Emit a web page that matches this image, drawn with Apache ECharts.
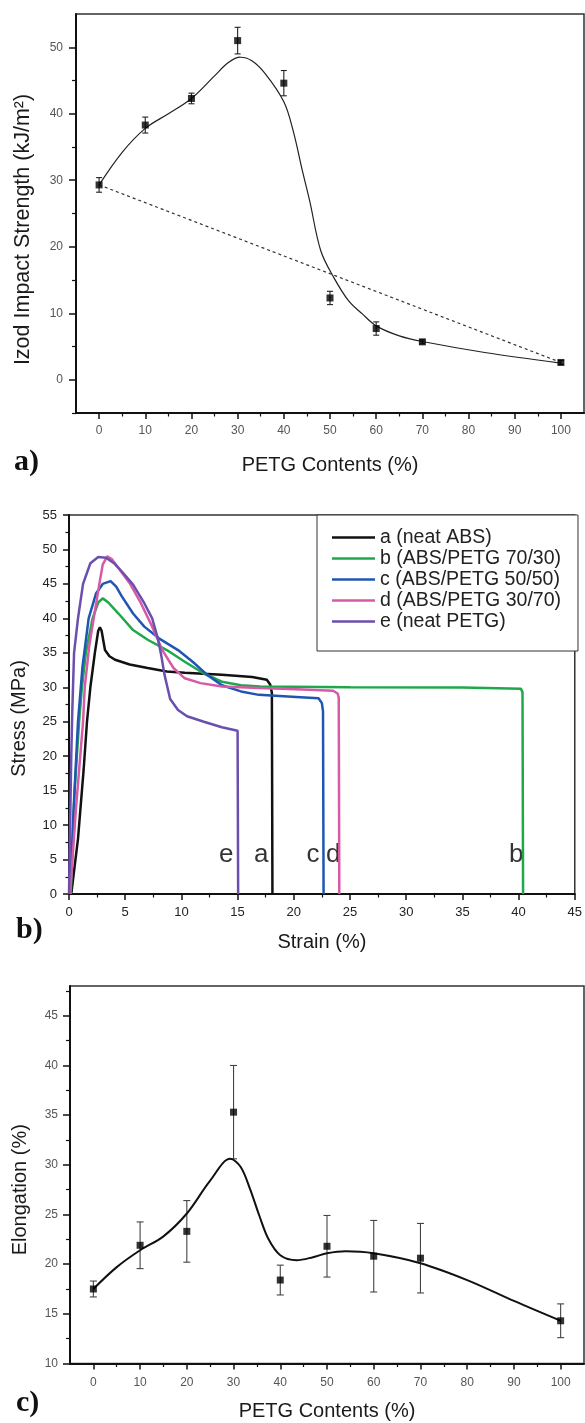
<!DOCTYPE html>
<html><head><meta charset="utf-8">
<script src="https://cdn.jsdelivr.net/npm/echarts@6/dist/echarts.min.js"></script>
<style>html,body{margin:0;padding:0;background:#fff}#c{width:585px;height:1423px}</style>
</head><body><div id="c"></div>
<script>
// ---------- data ----------
const petg = [0, 10, 20, 30, 40, 50, 60, 70, 100];
// (a) Izod impact strength
const izodMean = [29.3, 38.3, 42.3, 51.0, 44.6, 12.3, 7.7, 5.7, 2.6];
const izodErr  = [1.1, 1.2, 0.8, 2.0, 1.9, 1.0, 1.0, 0.3, 0.3];
const izodFitX = [0, 5, 10, 15, 20, 25, 28, 30.6, 33, 36, 40, 42, 44, 45.6, 48, 50.8, 54, 57, 60, 65, 70, 83.5, 100];
const izodFitY = [29.3, 34.2, 37.8, 40.0, 42.3, 45.7, 47.7, 48.5, 48.0, 46.0, 41.8, 37.5, 31.5, 26.9, 19.4, 15.4, 11.9, 9.9, 8.1, 6.6, 5.75, 4.1, 2.5];
const izodRuleX = [0, 100];
const izodRuleY = [29.3, 2.6];
// (c) elongation
const elongMean = [17.5, 21.9, 23.3, 35.3, 18.4, 21.8, 20.8, 20.6, 14.3];
const elongErr  = [0.8, 2.35, 3.1, 4.7, 1.5, 3.1, 3.6, 3.5, 1.7];
const elongFitX = [0, 5, 10, 15, 20, 25, 29.3, 31.5, 33.5, 35.5, 37.5, 40, 43.5, 47, 50, 54, 60, 70, 80, 90, 100];
const elongFitY = [17.5, 19.7, 21.4, 22.8, 25.1, 28.4, 30.6, 29.8, 27.6, 24.9, 22.5, 20.9, 20.4, 20.7, 21.1, 21.3, 21.1, 20.1, 18.4, 16.3, 14.3];
// (b) stress-strain curves [strain %, stress MPa]
const curveNames = ['a (neat ABS)', 'b (ABS/PETG 70/30)', 'c (ABS/PETG 50/50)', 'd (ABS/PETG 30/70)', 'e (neat PETG)'];
const curveA = [[0.2,0],[0.8,8],[1.3,18],[1.6,25],[1.9,30],[2.3,35],[2.6,38.2],[2.75,38.7],[2.9,38.2],[3.2,35.4],[3.6,34.5],[4.1,34.0],[5.4,33.3],[7.0,32.8],[8.7,32.3],[10.3,32.1],[13.6,31.8],[16.3,31.5],[17.6,31.1],[17.9,30.4],[18.05,29.2],[18.1,0]];
const curveB = [[0.15,0],[0.5,15],[0.9,25],[1.15,30],[1.5,35],[2.1,40],[2.6,42.3],[3.0,42.9],[3.5,42.3],[4.4,40.7],[5.7,38.3],[7.0,36.9],[8.7,35.4],[10.3,33.7],[12.0,32.0],[13.6,30.8],[15.3,30.3],[17.0,30.1],[25,30.0],[35,29.95],[40.2,29.8],[40.35,29.3],[40.4,0]];
const curveC = [[0.1,0],[0.4,12],[0.8,25],[1.2,33],[1.75,40],[2.4,43.6],[3.0,45.0],[3.7,45.4],[4.2,44.6],[4.7,43.2],[5.7,40.7],[6.7,38.8],[8.0,37.1],[9.7,35.4],[11.0,33.7],[12.3,31.8],[13.6,30.3],[15.3,29.4],[16.9,28.9],[20.2,28.6],[22.2,28.4],[22.5,27.7],[22.6,26.5],[22.65,0]];
const curveD = [[0.1,0],[0.6,12],[1.25,25],[1.4,30],[1.8,36],[2.2,40],[2.7,45],[3.0,47.8],[3.4,49.0],[3.8,48.6],[4.4,47.3],[5.4,45.1],[6.4,42.2],[7.4,38.8],[8.3,35.4],[9.3,32.8],[10.3,31.3],[11.7,30.6],[13.6,30.1],[16.9,29.9],[20.2,29.7],[23.5,29.5],[23.9,29.1],[24.0,28.5],[24.05,0]];
const curveE = [[0,0],[0.1,10],[0.2,20],[0.3,27],[0.45,35],[0.8,40],[1.25,45],[1.9,48],[2.6,48.9],[3.3,48.8],[4.0,48.0],[4.7,46.8],[5.7,44.9],[6.7,42.2],[7.4,40.0],[7.9,37.1],[8.2,34.7],[8.5,31.8],[9.0,28.3],[9.7,26.7],[10.5,25.8],[12.0,25.0],[13.6,24.2],[15.0,23.7],[15.05,0]];
const curveColors = ['#111111', '#1fa84a', '#1f56b3', '#d65aa5', '#6b4fae'];
const curveTags = [[14.0, 5.7, 'e'], [17.1, 5.7, 'a'], [21.7, 5.7, 'c'], [23.5, 5.7, 'd'], [39.8, 5.7, 'b']];
// tick values
const contentTicks = [0, 10, 20, 30, 40, 50, 60, 70, 80, 90, 100];
const contentMinor = [5, 15, 25, 35, 45, 55, 65, 75, 85, 95];
const izodTicks = [0, 10, 20, 30, 40, 50];
const izodMinor = [-5, 5, 15, 25, 35, 45];
const elongTicks = [10, 15, 20, 25, 30, 35, 40, 45];
const elongMinor = [12.5, 17.5, 22.5, 27.5, 32.5, 37.5, 42.5, 47.5];

// ---------- chart ----------
const FF = '"Liberation Sans", Arial, sans-serif';
const zip = (xs, ys) => xs.map((x, i) => [x, ys[i]]);
const titleStyle = { fontSize: 20, color: '#1a1a1a', fontFamily: FF };

function majorAxis(o) {
  return Object.assign({
    type: 'value', splitLine: { show: false },
    axisLine: { show: true, onZero: false, lineStyle: { color: '#111', width: 2 } },
    axisTick: { show: true, length: 6, lineStyle: { color: '#111', width: 1.5 } },
    axisLabel: { color: '#555', fontSize: 12, fontFamily: FF, margin: 12 },
    nameLocation: 'middle', nameTextStyle: titleStyle
  }, o);
}
function minorAxis(o) {
  return Object.assign({
    type: 'value', splitLine: { show: false },
    axisLine: { show: false, onZero: false },
    axisTick: { show: true, length: 3.5, lineStyle: { color: '#111', width: 1.2 } },
    axisLabel: { show: false }
  }, o);
}
function errSeries(xi, yi, mean, err, color, cap) {
  return {
    type: 'custom', xAxisIndex: xi, yAxisIndex: yi, silent: true, z: 3,
    data: petg.map((x, i) => [x, mean[i] - err[i], mean[i] + err[i]]),
    encode: { x: 0, y: [1, 2] },
    renderItem(params, api) {
      const x = api.value(0);
      const lo = api.coord([x, api.value(1)]);
      const hi = api.coord([x, api.value(2)]);
      const st = { stroke: color, lineWidth: 1.1 };
      return { type: 'group', children: [
        { type: 'line', shape: { x1: lo[0], y1: lo[1], x2: hi[0], y2: hi[1] }, style: st },
        { type: 'line', shape: { x1: lo[0] - cap, y1: lo[1], x2: lo[0] + cap, y2: lo[1] }, style: st },
        { type: 'line', shape: { x1: hi[0] - cap, y1: hi[1], x2: hi[0] + cap, y2: hi[1] }, style: st }
      ]};
    }
  };
}

const chart = echarts.init(document.getElementById('c'), null, { renderer: 'canvas' });
const curves = [curveA, curveB, curveC, curveD, curveE];

const option = {
  backgroundColor: '#fff',
  animation: false,
  grid: [
    { left: 76, right: 1, top: 14, height: 399, show: true, borderColor: '#333', borderWidth: 1.5 },
    { left: 69, right: 7, top: 515, height: 379, show: true, borderColor: '#333', borderWidth: 1.5 },
    { left: 70, right: 1, top: 986, height: 377.5, show: true, borderColor: '#333', borderWidth: 1.5 }
  ],
  xAxis: [
    majorAxis({ gridIndex: 0, position: 'bottom', min: -5, max: 105, axisTick: { show: true, customValues: contentTicks, length: 6, lineStyle: { color: '#111', width: 1.5 } },
      axisLabel: { customValues: contentTicks, color: '#555', fontSize: 12, fontFamily: FF, margin: 12 },
      name: 'PETG Contents (%)', nameGap: 42 }),
    minorAxis({ gridIndex: 0, position: 'bottom', min: -5, max: 105, axisTick: { show: true, customValues: contentMinor, length: 3.5, lineStyle: { color: '#111', width: 1.2 } } }),
    majorAxis({ gridIndex: 1, position: 'bottom', min: 0, max: 45, interval: 5,
      axisLabel: { color: '#222', fontSize: 13, fontFamily: FF, margin: 12 },
      minorTick: { show: true, splitNumber: 2, length: 3.5, lineStyle: { color: '#111', width: 1.2 } },
      name: 'Strain (%)', nameGap: 38 }),
    majorAxis({ gridIndex: 2, position: 'bottom', min: -5, max: 105, axisTick: { show: true, customValues: contentTicks, length: 6, lineStyle: { color: '#111', width: 1.5 } },
      axisLabel: { customValues: contentTicks, color: '#555', fontSize: 12, fontFamily: FF, margin: 13 },
      name: 'PETG Contents (%)', nameGap: 38 }),
    minorAxis({ gridIndex: 2, position: 'bottom', min: -5, max: 105, axisTick: { show: true, customValues: contentMinor, length: 3.5, lineStyle: { color: '#111', width: 1.2 } } })
  ],
  yAxis: [
    majorAxis({ gridIndex: 0, position: 'left', min: -5, max: 55, axisTick: { show: true, customValues: izodTicks, length: 7, lineStyle: { color: '#111', width: 1.5 } },
      axisLabel: { customValues: izodTicks, color: '#555', fontSize: 12, fontFamily: FF, margin: 13 },
      name: 'Izod Impact Strength (kJ/m²)', nameGap: 42,
      nameTextStyle: Object.assign({}, titleStyle, { fontSize: 21.5, padding: [0, 32, 0, 0] }) }),
    minorAxis({ gridIndex: 0, position: 'left', min: -5, max: 55, axisTick: { show: true, customValues: izodMinor, length: 4, lineStyle: { color: '#111', width: 1.2 } } }),
    majorAxis({ gridIndex: 1, position: 'left', min: 0, max: 55, interval: 5,
      axisLabel: { color: '#222', fontSize: 13, fontFamily: FF, margin: 12 },
      minorTick: { show: true, splitNumber: 2, length: 3.5, lineStyle: { color: '#111', width: 1.2 } },
      name: 'Stress (MPa)', nameGap: 40,
      nameTextStyle: Object.assign({}, titleStyle, { padding: [0, 28, 0, 0] }) }),
    majorAxis({ gridIndex: 2, position: 'left', min: 10, max: 48, axisTick: { show: true, customValues: elongTicks, length: 7, lineStyle: { color: '#111', width: 1.5 } },
      axisLabel: { customValues: elongTicks, color: '#555', fontSize: 12, fontFamily: FF, margin: 12 },
      name: 'Elongation (%)', nameGap: 40,
      nameTextStyle: Object.assign({}, titleStyle, { padding: [0, 30, 0, 0] }) }),
    minorAxis({ gridIndex: 2, position: 'left', min: 10, max: 48, axisTick: { show: true, customValues: elongMinor, length: 4, lineStyle: { color: '#111', width: 1.2 } } })
  ],
  legend: {
    left: 317, top: 515, orient: 'vertical', icon: 'rect', itemWidth: 43, itemHeight: 2.5, itemGap: 1,
    padding: [12.5, 17, 19.5, 15], borderColor: '#333', borderWidth: 1, backgroundColor: '#fff',
    textStyle: { fontSize: 19.5, color: '#222', fontFamily: FF, lineHeight: 19 },
    data: curveNames
  },
  graphic: [
    { type: 'text', x: 14, y: 462, style: { text: 'a)', font: 'bold 30px "Liberation Serif", serif', fill: '#111', verticalAlign: 'middle' } },
    { type: 'text', x: 16, y: 930, style: { text: 'b)', font: 'bold 30px "Liberation Serif", serif', fill: '#111', verticalAlign: 'middle' } },
    { type: 'text', x: 16, y: 1403, style: { text: 'c)', font: 'bold 30px "Liberation Serif", serif', fill: '#111', verticalAlign: 'middle' } }
  ],
  series: [
    // (a)
    { type: 'line', xAxisIndex: 0, yAxisIndex: 0, data: zip(izodRuleX, izodRuleY), symbol: 'none', silent: true,
      lineStyle: { color: '#333', width: 1.2, type: [3, 3] } },
    { type: 'line', xAxisIndex: 0, yAxisIndex: 0, data: zip(izodFitX, izodFitY), symbol: 'none', smooth: 0.35, silent: true,
      lineStyle: { color: '#222', width: 1.2 } },
    errSeries(0, 0, izodMean, izodErr, '#222', 3),
    { type: 'scatter', xAxisIndex: 0, yAxisIndex: 0, data: zip(petg, izodMean), symbol: 'rect', symbolSize: 7,
      itemStyle: { color: '#000' }, z: 4 },
    // (b)
    ...curves.map((c, i) => ({
      type: 'line', name: curveNames[i], xAxisIndex: 2, yAxisIndex: 2, data: c, symbol: 'none', showSymbol: false,
      itemStyle: { color: curveColors[i] }, lineStyle: { color: curveColors[i], width: 2.5 }, z: 2 + i
    })),
    { type: 'scatter', xAxisIndex: 2, yAxisIndex: 2, data: curveTags, symbol: 'rect', symbolSize: 0.1,
      itemStyle: { color: 'transparent' }, silent: true,
      label: { show: true, position: 'inside', formatter: p => p.value[2], fontSize: 26, color: '#000', fontFamily: FF } },
    // (c)
    { type: 'line', xAxisIndex: 3, yAxisIndex: 3, data: zip(elongFitX, elongFitY), symbol: 'none', smooth: 0.35, silent: true,
      lineStyle: { color: '#111', width: 2 } },
    errSeries(3, 3, elongMean, elongErr, '#444', 3.5),
    { type: 'scatter', xAxisIndex: 3, yAxisIndex: 3, data: zip(petg, elongMean), symbol: 'rect', symbolSize: 7,
      itemStyle: { color: '#000' }, z: 4 }
  ]
};
chart.setOption(option);
</script></body></html>
